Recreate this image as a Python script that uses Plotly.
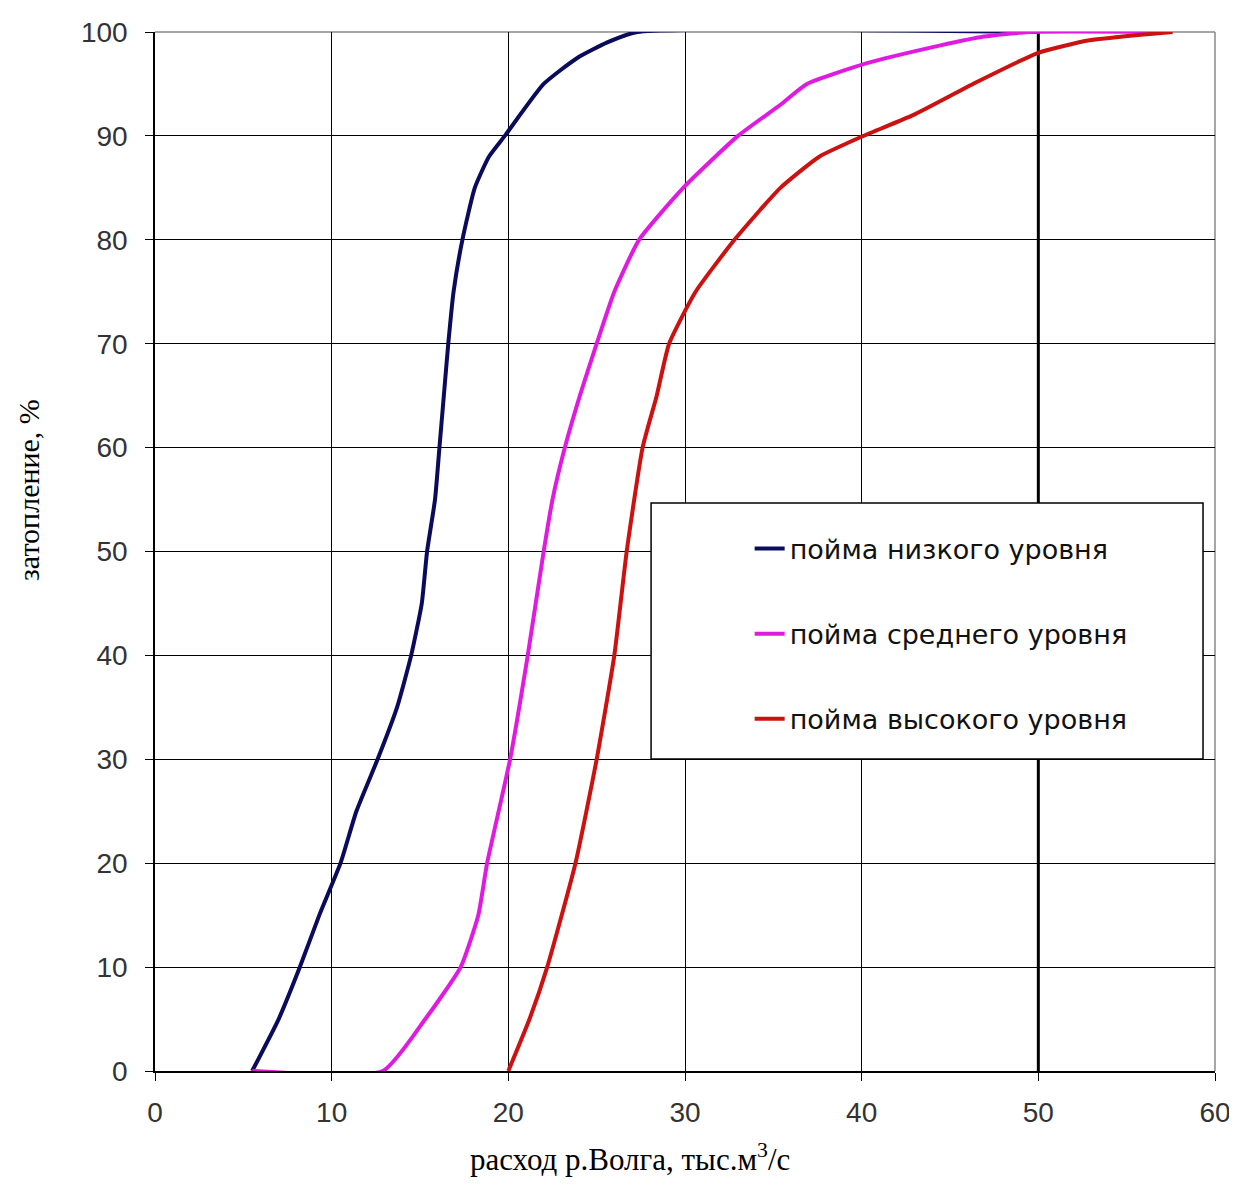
import plotly.graph_objects as go

# ---- data ----
low_x = [5.5, 7.0, 8.2, 9.3, 10.5, 11.4, 12.6, 13.7, 14.5, 15.1, 15.4, 15.85, 16.1, 16.35, 16.6, 16.9, 17.4, 18.1, 18.9, 19.8, 22.0, 23.9, 25.6, 27.3, 50.0]
low_y = [0, 5, 10, 15, 20, 25, 30, 35, 40, 45, 50, 55, 60, 65, 70, 75, 80, 85, 88, 90, 95, 97.5, 99, 100, 100]

mid_x = [5.5, 12.9, 15.3, 17.3, 18.3, 18.8, 20.1, 21.1, 22.0, 22.5, 23.2, 24.05, 25.0, 26.0, 27.4, 29.9, 33.0, 35.4, 36.9, 40.3, 43.9, 46.7, 49.5, 57.5]
mid_y = [0, 0, 5, 10, 15, 20, 30, 40, 50, 55, 60, 65, 70, 75, 80, 85, 90, 93, 95, 97, 98.5, 99.5, 100, 100]

high_x = [20.0, 21.2, 22.2, 23.8, 25.0, 26.0, 26.7, 27.6, 28.4, 29.1, 30.6, 32.8, 35.4, 37.6, 40.1, 42.9, 46.3, 50.0, 52.9, 57.6]
high_y = [0, 5, 10, 20, 30, 40, 50, 60, 65, 70, 75, 80, 85, 88, 90, 92, 95, 98, 99.2, 100]

names = ["пойма низкого уровня", "пойма среднего уровня", "пойма высокого уровня"]
colors = ["#0b0b5c", "#e01be0", "#cc1111"]

x_ticks = [0, 10, 20, 30, 40, 50, 60]
y_ticks = [0, 10, 20, 30, 40, 50, 60, 70, 80, 90, 100]

fig = go.Figure()
for i, (xs, ys) in enumerate([(low_x, low_y), (mid_x, mid_y), (high_x, high_y)]):
    fig.add_trace(go.Scatter(
        x=xs, y=ys, mode="lines", name=names[i],
        line=dict(color=colors[i], width=4, shape="spline", smoothing=0.5),
        legendgroup=str(i),
    ))

# legend box
fig.add_shape(type="rect", xref="paper", yref="paper",
              x0=0.468, x1=0.9887, y0=0.3003, y1=0.5467,
              line=dict(color="black", width=1.5), fillcolor="white", layer="above")
# thick gridline at 50
fig.add_shape(type="line", xref="x", yref="y", x0=50, x1=50, y0=0, y1=100,
              line=dict(color="black", width=3), layer="below")
# gray top / right border
fig.add_shape(type="line", xref="paper", yref="paper", x0=0, x1=1, y0=1, y1=1,
              line=dict(color="#888888", width=1.5), layer="below")
fig.add_shape(type="line", xref="paper", yref="paper", x0=1, x1=1, y0=0, y1=1,
              line=dict(color="#888888", width=1.5), layer="below")

# axis titles as annotations (positioned like the reference)
fig.add_annotation(text="расход р.Волга, тыс.м<sup>3</sup>/с", xref="paper", yref="paper",
                   x=0.448, y=-0.083, xanchor="center", yanchor="middle", showarrow=False,
                   font=dict(family="Liberation Serif, Times New Roman", size=31, color="black"))
fig.add_annotation(text="затопление, %", xref="paper", yref="paper",
                   x=-0.12, y=0.559, xanchor="center", yanchor="middle", showarrow=False,
                   textangle=-90,
                   font=dict(family="Liberation Serif, Times New Roman", size=30, color="black"))

fig.update_layout(
    width=1229, height=1177,
    margin=dict(l=147, r=22, t=24, b=114, autoexpand=False),
    paper_bgcolor="white", plot_bgcolor="white",
    showlegend=True,
    legend=dict(
        x=0.561, y=0.526, xanchor="left", yanchor="top",
        bgcolor="rgba(0,0,0,0)", borderwidth=0,
        font=dict(family="DejaVu Sans", size=27, color="#111"),
        tracegroupgap=47, traceorder="grouped",
    ),
    xaxis=dict(
        range=[0, 60], tickvals=x_ticks, ticktext=[str(v) for v in x_ticks],
        showgrid=True, gridcolor="black", gridwidth=1,
        showline=True, linecolor="black", linewidth=1.5,
        ticks="outside", ticklen=8, tickcolor="black",
        ticklabelstandoff=8,
        tickfont=dict(family="Liberation Sans, Arial", size=28, color="#333"),
        zeroline=False,
    ),
    yaxis=dict(
        range=[0, 100], tickvals=y_ticks, ticktext=[str(v) for v in y_ticks],
        showgrid=True, gridcolor="black", gridwidth=1,
        showline=True, linecolor="black", linewidth=1.5,
        ticks="outside", ticklen=8, tickcolor="black",
        ticklabelstandoff=12,
        tickfont=dict(family="Liberation Sans, Arial", size=28, color="#333"),
        zeroline=False,
    ),
)

fig.write_html("out.html")
